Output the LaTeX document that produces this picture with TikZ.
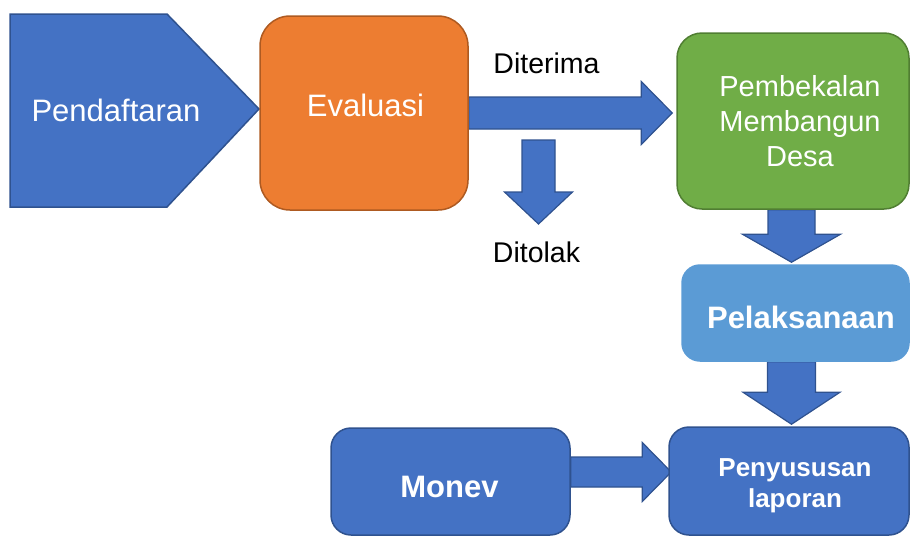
\documentclass[tikz,border=0pt]{standalone}
\usepackage{fontspec}
\setmainfont{Liberation Sans}
\usetikzlibrary{calc,backgrounds}
\definecolor{bl}{HTML}{4472C4}
\definecolor{blb}{HTML}{2F528F}
\definecolor{orf}{HTML}{ED7D31}
\definecolor{orb}{HTML}{AE5A21}
\definecolor{grf}{HTML}{70AD47}
\definecolor{grb}{HTML}{507E32}
\definecolor{lbf}{HTML}{5B9BD5}
\newcommand\fs[2]{\fontsize{#1pt}{#2pt}\selectfont}
\newcommand\blockarr[5]{%
  \coordinate (ba-h) at ($(#2)!#5!(#1)$);
  \draw[barrow] ($(#1)!#3!90:(#2)$) -- ($(ba-h)!#3!90:(#2)$) -- ($(ba-h)!#4!90:(#2)$) -- (#2)
    -- ($(ba-h)!#4!-90:(#2)$) -- ($(ba-h)!#3!-90:(#2)$) -- ($(#1)!#3!-90:(#2)$) -- cycle;}
\tikzset{
  box/.style={line width=1.5pt, rounded corners=#1, inner sep=0pt},
  bluebox/.style={box=20pt, draw=blb, fill=bl},
  barrow/.style={fill=bl, draw=blb, line width=1.2pt, line join=miter},
  wtxt/.style={text=white, inner sep=0pt, align=center},
  ktxt/.style={text=black, inner sep=0pt, align=center},
}
\begin{document}
\begin{tikzpicture}[x=1pt, y=-1pt]
\useasboundingbox (0,0) rectangle (911,536);
% Pendaftaran pentagon
\draw[fill=bl, draw=blb, line width=1.5pt, line join=miter]
  (10,14) -- (167,14) -- (259,109) -- (167,207) -- (10,207) -- cycle;
\node[wtxt, anchor=base, font=\fs{31}{35}] (daft) at (116,121) {Pendaftaran};
% boxes
\node[box=30pt, draw=orb, fill=orf, minimum width=208pt, minimum height=194pt] (eval) at (364,113) {};
\node[wtxt, anchor=base, font=\fs{31}{35}] (evaltxt) at (365.5,116) {Evaluasi};
\node[box=25pt, draw=grb, fill=grf, minimum width=232pt, minimum height=176pt] (pemb) at (793,121) {};
\node[wtxt, font=\fs{29}{35}] (pembtxt) at (800,121.4) {Pembekalan\\Membangun\\Desa};
\node[box=18pt, draw=lbf, fill=lbf, minimum width=227pt, minimum height=96pt] (pel) at (795.5,313) {};
\node[wtxt, anchor=base, font=\fs{31}{35}\bfseries] (peltxt) at (801,328) {Pelaksanaan};
\node[bluebox, minimum width=240pt, minimum height=108pt] (peny) at (789,481) {};
\node[wtxt, font=\fs{26}{31}\bfseries] (penytxt) at (795,486) {Penyususan\\laporan};
\node[bluebox, minimum width=239pt, minimum height=107pt] (monev) at (450.5,481.5) {};
\node[wtxt, anchor=base, font=\fs{31}{35}\bfseries] (monevtxt) at (449.5,497) {Monev};
% labels
\node[ktxt, anchor=base, font=\fs{28.5}{33}] (terima) at (546.5,73) {Diterima};
\node[ktxt, anchor=base, font=\fs{28.5}{33}] (tolak) at (536.5,262) {Ditolak};
% helper coordinates
\coordinate (ax) at (791.5,0);
\coordinate (ay) at (0,472);
\coordinate (rejS) at (538.5,140);
\coordinate (rejE) at (538.5,224);
\coordinate (t1) at ($(pemb.west |- eval.east)+(-4,0)$);
\coordinate (s3) at (pemb.south -| ax);
\coordinate (t3) at ($(pel.north -| ax)+(0,-2)$);
\coordinate (s4) at (pel.south -| ax);
\coordinate (t4) at ($(peny.north -| ax)+(0,-2)$);
\coordinate (s5) at (monev.east |- ay);
\coordinate (t5) at ($(peny.west |- ay)+(3,0)$);
\begin{scope}[on background layer]
\blockarr{eval.east}{t1}{16pt}{31.5pt}{31pt}
\blockarr{rejS}{rejE}{16.5pt}{34pt}{32pt}
\blockarr{s3}{t3}{23.5pt}{49pt}{28pt}
\blockarr{s4}{t4}{24pt}{48.5pt}{32pt}
\blockarr{s5}{t5}{15pt}{29.5pt}{29pt}
\end{scope}
\end{tikzpicture}
\end{document}
